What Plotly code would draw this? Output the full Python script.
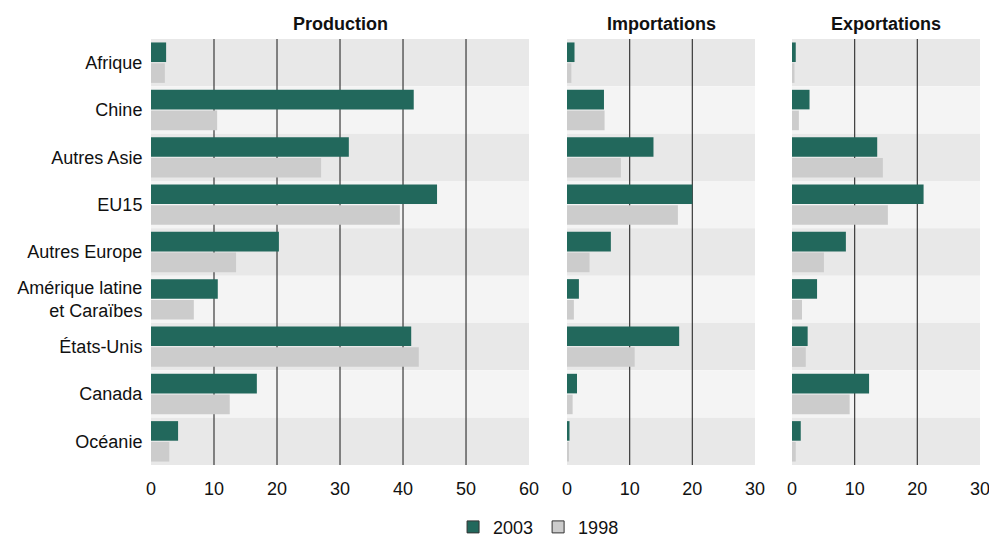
import plotly.graph_objects as go

categories = ["Afrique", "Chine", "Autres Asie", "EU15", "Autres Europe",
              "Amérique latine<br>et Caraïbes", "États-Unis", "Canada", "Océanie"]

prod_2003 = [2.4, 41.7, 31.4, 45.4, 20.3, 10.6, 41.3, 16.8, 4.3]
prod_1998 = [2.2, 10.5, 27.0, 39.5, 13.5, 6.8, 42.5, 12.5, 2.9]
imp_2003 = [1.2, 5.9, 13.8, 20.0, 7.0, 1.9, 17.9, 1.6, 0.4]
imp_1998 = [0.7, 6.0, 8.6, 17.7, 3.6, 1.1, 10.8, 0.9, 0.2]
exp_2003 = [0.6, 2.8, 13.6, 21.0, 8.6, 4.0, 2.5, 12.3, 1.4]
exp_1998 = [0.4, 1.1, 14.5, 15.3, 5.1, 1.6, 2.2, 9.2, 0.6]

panel_titles = ["Production", "Importations", "Exportations"]
panel_ranges = [60, 30, 30]
panel_ticks = [[0, 10, 20, 30, 40, 50, 60], [0, 10, 20, 30], [0, 10, 20, 30]]
grid_vals = [[10, 20, 30, 40, 50], [10, 20], [10, 20]]
series_names = ["2003", "1998"]

C2003 = "#22685c"
C1998 = "#cccccc"
FONT = "Liberation Sans, Arial, Helvetica, sans-serif"
FS = 18

domains = [[0.0, 0.456], [0.5018, 0.7286], [0.7732, 1.0]]
data = [(prod_2003, prod_1998), (imp_2003, imp_1998), (exp_2003, exp_1998)]

fig = go.Figure()
axnames = ["x", "x2", "x3"]
for i, (a, b) in enumerate(data):
    fig.add_trace(go.Bar(y=categories, x=a, orientation="h", name=series_names[0],
                         marker=dict(color=C2003, line=dict(width=0)),
                         xaxis=axnames[i], yaxis="y", showlegend=False,
                         offsetgroup="a"))
    fig.add_trace(go.Bar(y=categories, x=b, orientation="h", name=series_names[1],
                         marker=dict(color=C1998, line=dict(width=0)),
                         xaxis=axnames[i], yaxis="y", showlegend=False,
                         offsetgroup="b"))

# legend entries
for name, col in zip(series_names, [C2003, C1998]):
    fig.add_trace(go.Scatter(x=[None], y=[None], mode="markers", name=name,
                             marker=dict(symbol="square", size=12, color=col,
                                         line=dict(color="#333333", width=1)),
                             xaxis="x", yaxis="y"))

shapes = []
for i in range(3):
    xref = ("x" if i == 0 else f"x{i+1}") + " domain"
    for k in range(len(categories)):
        shapes.append(dict(type="rect", xref=xref, yref="y",
                           x0=0, x1=1, y0=k - 0.5, y1=k + 0.5,
                           fillcolor="#e8e8e8" if k % 2 == 0 else "#f4f4f4",
                           line=dict(width=0), layer="below"))
for i in range(3):
    xr = "x" if i == 0 else f"x{i+1}"
    for g in grid_vals[i]:
        shapes.append(dict(type="line", xref=xr, yref="y domain",
                           x0=g, x1=g, y0=0, y1=1,
                           line=dict(color="#3a3a3a", width=1.2), layer="below"))

annotations = []
for i in range(3):
    annotations.append(dict(text=f"<b>{panel_titles[i]}</b>", xref="paper", yref="paper",
                            x=(domains[i][0] + domains[i][1]) / 2, y=1,
                            xanchor="center", yanchor="bottom", yshift=3,
                            showarrow=False, font=dict(size=FS, color="#111111", family=FONT)))

layout = dict(
    width=989, height=538,
    margin=dict(l=151, r=9, t=39, b=73, autoexpand=False),
    paper_bgcolor="white", plot_bgcolor="white",
    barmode="group", bargap=0.12, bargroupgap=0.06,
    font=dict(family=FONT, size=FS, color="#111111"),
    shapes=shapes, annotations=annotations,
    showlegend=True,
    legend=dict(orientation="h", x=0.4675, xanchor="center", y=-0.146, yanchor="middle",
                font=dict(size=FS), itemsizing="trace", itemwidth=30),
    yaxis=dict(type="category", autorange="reversed", showgrid=False, zeroline=False,
               ticks="outside", ticklen=4, tickcolor="rgba(0,0,0,0)",
               showline=False, categoryorder="array", categoryarray=categories),
)
for i in range(3):
    key = "xaxis" if i == 0 else f"xaxis{i+1}"
    layout[key] = dict(domain=domains[i], range=[0, panel_ranges[i]],
                       tickvals=panel_ticks[i], showgrid=False, zeroline=False,
                       showline=False, ticks="outside", ticklen=7,
                       tickcolor="rgba(0,0,0,0)", anchor="y", fixedrange=True,
                       ticklabeloverflow="allow")
fig.update_layout(**layout)

fig.write_html("out.html", config={"displayModeBar": False},
               post_script="document.body.style.margin='0';document.body.style.overflow='hidden';")
